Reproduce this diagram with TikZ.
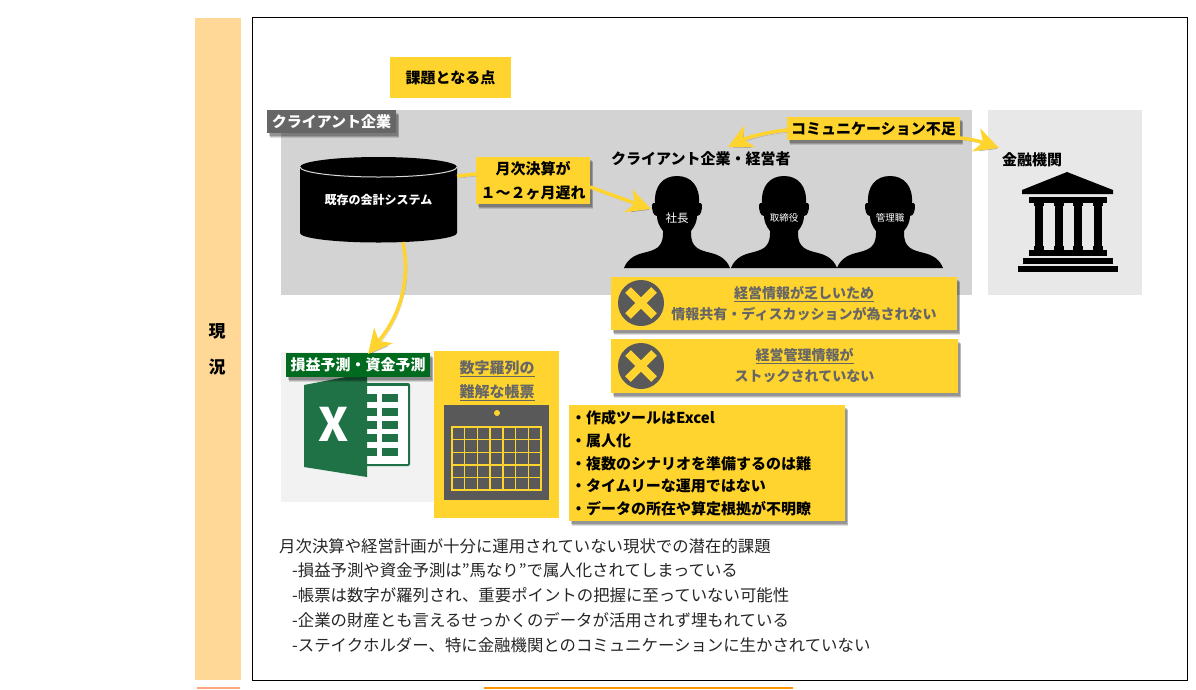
\documentclass[tikz,border=0pt]{standalone}
\usepackage{fontspec}
\setmainfont{Noto Sans CJK JP}
\usetikzlibrary{arrows.meta,shadows}
\definecolor{ylw}{HTML}{FFD42F}
\definecolor{band}{HTML}{FFD898}
\definecolor{panelA}{HTML}{D3D3D3}
\definecolor{panelB}{HTML}{E8E8E8}
\definecolor{dgray}{HTML}{595959}
\definecolor{mgray}{HTML}{666666}
\definecolor{xlgreen}{HTML}{1F7246}
\definecolor{lblgreen}{HTML}{006B1E}
\newcommand\bx[7]{\node[#6,minimum width={(#4-#2)*1pt},minimum height={(#5-#3)*1pt}] (#1) at ({(#2+#4)/2},{(#3+#5)/2}) {#7};}
\newcommand\fs[2]{\fontsize{#1}{#2}\selectfont}
\newcommand\ul[1]{\underline{#1}}
\tikzset{
  flat/.style={inner sep=0pt,outer sep=0pt,align=center},
  shd/.style={
    general shadow={shadow xshift=3pt,shadow yshift=-4.5pt,opacity=.13,fill=black},
    general shadow={shadow xshift=2.5pt,shadow yshift=-3.5pt,opacity=.16,fill=black},
    general shadow={shadow xshift=2pt,shadow yshift=-2.5pt,opacity=.2,fill=black}},
  ybox/.style={flat,fill=ylw,font=\fs{15}{24}\bfseries},
  yshd/.style={ybox,shd},
  grayt/.style={text=mgray,font=\fs{14}{21}\bfseries},
  arrowshd/.style={preaction={draw=black,opacity=.22,transform canvas={xshift=1.5pt,yshift=-2pt}}},
  flow/.style={arrowshd,draw=ylw,line width=3.5pt,-{Stealth[length=24pt,width=24pt,inset=7pt]}},
  plain/.style={arrowshd,draw=ylw,line width=3.5pt},
  lbl/.style={inner sep=0pt,anchor=west,font=\fs{15}{18}\bfseries},
  body/.style={inner sep=0pt,anchor=west,text=black!85,font=\fs{16.4}{20}},
  hd/.style={inner sep=0pt,text=white},
  sil/.pic={\fill[black] (-53,92) .. controls (-50,84) and (-43,79) .. (-34,77) .. controls (-22,74) and (-14,72) .. (-14,57)
     -- (-14,55) .. controls (-18,50) and (-20,45) .. (-20,40) .. controls (-24,40) and (-25,34) .. (-25,29) .. controls (-25,27) and (-23,27) .. (-22,27)
     .. controls (-23,10) and (-14,0) .. (0,0) .. controls (14,0) and (23,10) .. (22,27) .. controls (23,27) and (25,27) .. (25,29) .. controls (25,34) and (24,40) .. (20,40)
     .. controls (20,45) and (18,50) .. (14,55) -- (14,57) .. controls (14,72) and (22,74) .. (34,77) .. controls (43,79) and (50,84) .. (53,92) -- cycle;},
  nope/.pic={\fill[dgray] (0,0) circle (23); \draw[ylw,line width=8pt] (-13,-13) -- (13,13) (-13,13) -- (13,-13);}
}
\begin{document}
\begin{tikzpicture}[x=1pt,y=-1pt]
\useasboundingbox (0,0) rectangle (1196,689);
\fill[white] (0,0) rectangle (1196,689);
% frame and band
\bx{bandbox}{195}{18}{241}{680}{flat,fill=band}{}
\node[flat,font=\fs{17}{20}\bfseries] (gen) at (217,331) {現};
\node[flat,font=\fs{17}{20}\bfseries] (jou) at (217,367) {況};
\bx{frame}{252}{17}{1187}{680}{flat,draw=black,line width=1pt}{}
\fill[orange!60!red!50] (197,687) rectangle (240,689);
\fill[orange!85!yellow] (484,687) rectangle (793,689);
\bx{issue}{390}{57}{511}{98}{ybox}{課題となる点}
% panels
\bx{client}{281}{110}{972}{295}{flat,fill=panelA}{}
\bx{bank}{988}{110}{1142}{295}{flat,fill=panelB}{}
\bx{clientlabel}{267}{110}{396}{133}{flat,fill=mgray,shd,text=white,font=\fs{15}{18}\bfseries}{クライアント企業}
% arrow targets and the yellow labels, under the people
\coordinate (ceo) at (651,209);
\coordinate (mgmtpt) at (728,147);
\coordinate (kinpt) at (999,148);
\coordinate (xlpt) at (368,354);
% cylinder
\fill[black] (300,167) arc[start angle=180,end angle=360,x radius=78.5,y radius=10] -- (457,233) arc[start angle=0,end angle=180,x radius=78.5,y radius=9.5] -- cycle;
\draw[white!85!black,line width=1pt] (300,167) arc[start angle=180,end angle=0,x radius=78.5,y radius=10];
\bx{sys}{300}{157}{457}{242}{flat,text=white,font=\fs{12}{14}\bfseries}{既存の会計システム}
\bx{late}{476}{157}{590}{204}{yshd}{月次決算が\\１〜２ヶ月遅れ}
\bx{comm}{787}{117}{960}{140}{yshd}{コミュニケーション不足}
\draw[plain] (sys.east |- 0,176) -- (late.west |- 0,174);
\draw[flow] (late.east |- 0,187) -- (ceo);
\draw[flow] (comm.west |- 0,130) .. controls (768,132) and (748,137) .. (mgmtpt);
\draw[flow] (comm.east |- 0,138) .. controls (972,139) and (985,143) .. (kinpt);
% people
\pic at (677,176) {sil};
\pic at (784,176) {sil};
\pic at (890,176) {sil};
\node[hd,font=\fs{11.5}{13}] (p1) at (677,218) {社長};
\node[hd,font=\fs{9.5}{11}] (p2) at (784,218) {取締役};
\node[hd,font=\fs{9.5}{11}] (p3) at (890,218) {管理職};
\node[lbl] (mgmt) at (611,159) {クライアント企業・経営者};
\node[lbl] (kin) at (1002,160) {金融機関};
% bank icon
\fill[black] (1067,172) -- (1113,190) -- (1113,194) -- (1022,194) -- (1022,190) -- cycle;
\fill[black] (1029,197) rectangle (1107,203);
\foreach \cx in {1039,1058.5,1078,1097.5}{
  \fill[black] (\cx-5,203) rectangle (\cx+5,206);
  \fill[black] (\cx-4,206) rectangle (\cx+4,246);
  \fill[black] (\cx-5,246) rectangle (\cx+5,250);
}
\fill[black] (1029,250) rectangle (1107,256);
\fill[black] (1023,258) rectangle (1113,264);
\fill[black] (1018,266) rectangle (1118,272);
% problem boxes
\bx{prob1}{611}{277}{957}{330}{flat,fill=ylw,shd,grayt}{\hspace*{40pt}\ul{経営情報が乏しいため}\\\hspace*{40pt}情報共有・ディスカッションが為されない}
\bx{prob2}{611}{339}{958}{393}{flat,fill=ylw,shd,grayt}{\hspace*{40pt}\ul{経営管理情報が}\\\hspace*{40pt}ストックされていない}
\pic at (641,303) {nope};
\pic at (641,366) {nope};
% excel
\bx{xlbg}{281}{352}{434}{502}{flat,fill=black!5}{}
\fill[xlgreen,rounded corners=2pt] (362,383) rectangle (410,466);
\fill[white] (362,386) rectangle (407.5,463.5);
\foreach \ry/\rh in {394/8,408/8,421/7.5,434/8,448/7.5}{
  \fill[xlgreen] (367,\ry) rectangle (377,\ry+\rh);
  \fill[xlgreen] (382,\ry) rectangle (398,\ry+\rh);
}
\fill[xlgreen] (304,385) -- (367,373) -- (367,477) -- (304,467) -- cycle;
\node[flat,text=white,font=\fs{46}{46}\bfseries] (xlx) at (334,424) {X};
\bx{pl}{286}{353}{430}{377}{flat,fill=lblgreen,shd,text=white,font=\fs{15}{18}\bfseries}{損益予測・資金予測}
% report
\bx{report}{434}{351}{559}{518}{flat,fill=ylw}{}
\node[flat,text=mgray,font=\fs{15}{24}\bfseries] (rt) at (497,381) {\ul{数字羅列の}\\\ul{難解な帳票}};
\bx{cal}{444}{405}{549}{500}{flat,fill=dgray}{}
\fill[ylw] (497,413) circle (3);
\draw[ylw,line width=1.5pt] (452,427) rectangle (541,490);
\foreach \i in {1,...,6}{\draw[ylw,line width=1.4pt] ({452+\i*89/7},427) -- ({452+\i*89/7},490);}
\foreach \i in {1,...,4}{\draw[ylw,line width=1.4pt] (452,{427+\i*63/5}) -- (541,{427+\i*63/5});}
% list
\bx{list}{569}{405}{845}{521}{flat,fill=ylw,shd}{}
\node[lbl] (l1) at (571,418) {・作成ツールはExcel};
\node[lbl] (l2) at (571,441) {・属人化};
\node[lbl] (l3) at (571,464) {・複数のシナリオを準備するのは難};
\node[lbl] (l4) at (571,486) {・タイムリーな運用ではない};
\node[lbl] (l5) at (571,509) {・データの所在や算定根拠が不明瞭};
% arrow to P&L
\draw[flow] (sys.south -| 403,0) .. controls (411,285) and (398,318) .. (xlpt);
% body text
\node[body] (b0) at (279,546) {月次決算や経営計画が十分に運用されていない現状での潜在的課題};
\node[body] (b1) at (292,570) {-損益予測や資金予測は”馬なり”で属人化されてしまっている};
\node[body] (b2) at (292,595) {-帳票は数字が羅列され、重要ポイントの把握に至っていない可能性};
\node[body] (b3) at (292,620) {-企業の財産とも言えるせっかくのデータが活用されず埋もれている};
\node[body] (b4) at (292,645) {-ステイクホルダー、特に金融機関とのコミュニケーションに生かされていない};
\end{tikzpicture}
\end{document}
